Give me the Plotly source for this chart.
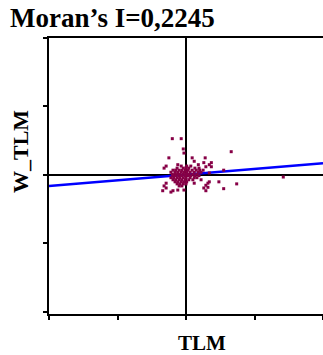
import plotly.graph_objects as go

# Scatter data (standardised TLM vs spatially lagged W_TLM)
tlm = [
    # outliers
    -0.20, -0.07, -0.04, -0.03, -0.25, 0.09, 0.12, 0.26, -0.29, -0.12, 0.18, 0.29,
    0.66, 0.28, 0.37, 0.55, 0.34, 0.37, 0.34, 0.48, 0.34, 0.74, 0.55, 0.32, 0.29,
    0.32, -0.29, -0.32, -0.29, -0.34, -0.22, -0.03, 0.26, 0.29, 0.12, -0.12, -0.19,
    1.42, -0.32, 0.19, 0.22,
    # core
    -0.07, 0.01, 0.07,
    -0.13, -0.04, 0.00, 0.04, 0.13, 0.19,
    -0.19, -0.15, -0.10, -0.06, -0.01, 0.03, 0.09, 0.15, 0.20, 0.25,
    -0.22, -0.16, -0.12, -0.07, -0.03, 0.01, 0.06, 0.12, 0.18, 0.22,
    -0.20, -0.16, -0.12, -0.09, -0.04, 0.00, 0.04, 0.10, 0.16,
    -0.19, -0.15, -0.10, -0.06, -0.01, 0.03, 0.07, 0.13,
    -0.22, -0.18, -0.13, -0.09, -0.04, 0.00, 0.06, 0.12, 0.16,
    -0.19, -0.15, -0.10, -0.06, -0.01, 0.04, 0.10,
    -0.16, -0.12, -0.07, -0.03, 0.01,
    -0.13, -0.09, -0.04, 0.00,
    -0.10, -0.06,
]
w_tlm = [
    # outliers
    0.53, 0.53, 0.38, 0.32, 0.25, 0.25, 0.20, 0.18, 0.13, 0.15, 0.15, 0.12,
    0.34, 0.25, 0.18, 0.07, 0.15, 0.12, 0.03, -0.10, -0.10, -0.13, -0.20, -0.18, -0.23,
    -0.12, -0.12, -0.16, -0.19, -0.23, -0.25, -0.22, -0.19, -0.15, -0.12, -0.22, -0.23,
    -0.03, 0.10, -0.01, -0.07,
    # core
    0.13, 0.13, 0.13,
    0.10, 0.10, 0.10, 0.10, 0.10, 0.10,
    0.07, 0.07, 0.07, 0.07, 0.07, 0.07, 0.07, 0.07, 0.07, 0.07,
    0.04, 0.04, 0.04, 0.04, 0.04, 0.04, 0.04, 0.04, 0.04, 0.04,
    0.01, 0.01, 0.01, 0.01, 0.01, 0.01, 0.01, 0.01, 0.01,
    -0.01, -0.01, -0.01, -0.01, -0.01, -0.01, -0.01, -0.01,
    -0.04, -0.04, -0.04, -0.04, -0.04, -0.04, -0.04, -0.04, -0.04,
    -0.07, -0.07, -0.07, -0.07, -0.07, -0.07, -0.07,
    -0.10, -0.10, -0.10, -0.10, -0.10,
    -0.13, -0.13, -0.13, -0.13,
    -0.16, -0.16,
]

# Regression (Moran's I) line end points
line_x = [-2.0, 2.0]
line_y = [-0.16, 0.17]

title_text = "Moran’s I=0,2245"
x_label = "TLM"
y_label = "W_TLM"

fig = go.Figure()
fig.add_trace(go.Scatter(
    x=line_x, y=line_y, mode="lines",
    line=dict(color="#0000FF", width=2.5), hoverinfo="skip",
))
fig.add_trace(go.Scatter(
    x=tlm, y=w_tlm, mode="markers",
    marker=dict(symbol="square", size=3, color="#860046", line=dict(width=0)),
))

axis_common = dict(
    showgrid=False, zeroline=True, zerolinecolor="black", zerolinewidth=2,
    showline=True, linecolor="black", linewidth=2,
    ticks="outside", ticklen=4, tickwidth=2, tickcolor="black",
    showticklabels=False, dtick=1,
)
fig.update_xaxes(range=[-2, 2], mirror=True, tick0=-2, **axis_common)
fig.update_yaxes(range=[-2.03, 2.0], tick0=-2, **axis_common)

serif = "Liberation Serif, Times New Roman, serif"
fig.update_layout(
    width=323, height=355,
    margin=dict(l=49, r=0, t=38, b=41),
    paper_bgcolor="white", plot_bgcolor="white",
    showlegend=False,
    title=dict(text="<b>" + title_text + "</b>", x=10 / 323, xanchor="left",
               y=1 - 18 / 355, yanchor="middle", xref="container",
               font=dict(family=serif, size=27, color="black")),
    annotations=[
        dict(text="<b>" + x_label + "</b>", xref="paper", yref="paper",
             x=(202 - 49) / 274, y=-(343 - 314) / 276, xanchor="center", yanchor="middle",
             showarrow=False, font=dict(family=serif, size=21, color="black")),
        dict(text="<b>" + y_label + "</b>", xref="paper", yref="paper",
             x=-(49 - 20) / 274, y=(314 - 152) / 276, xanchor="center", yanchor="middle",
             textangle=-90, showarrow=False, font=dict(family=serif, size=22, color="black")),
    ],
)

fig.write_html(
    "out.html",
    config={"displayModeBar": False},
    post_script="document.body.style.margin='0px';document.body.style.overflow='hidden';",
)
